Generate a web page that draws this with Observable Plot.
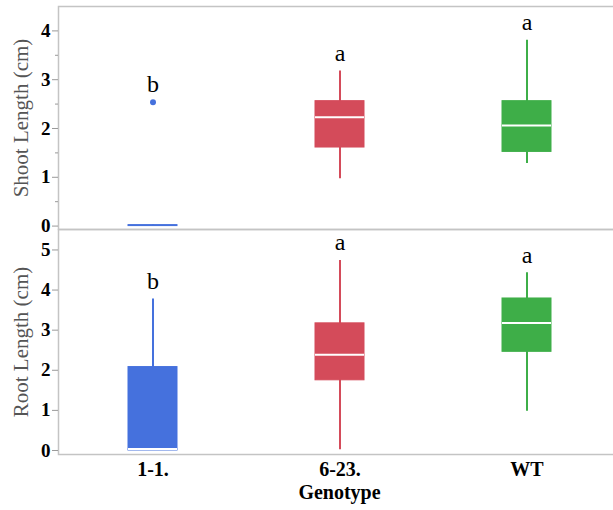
<!DOCTYPE html>
<html><head><meta charset="utf-8">
<script src="https://cdn.jsdelivr.net/npm/d3@7"></script>
<script src="https://cdn.jsdelivr.net/npm/@observablehq/plot@0.6"></script>
<style>
body{margin:0;background:#fff;}
#wrap{position:relative;width:613px;height:510px;overflow:hidden;}
#top{position:absolute;left:0;top:0;}
#bot{position:absolute;left:0;top:228px;}
</style>
</head><body><div id="wrap"><div id="top"></div><div id="bot"></div></div>
<script>
const genotypes = ["1-1.", "6-23.", "WT"];
const genotypeColors = ["#4571DD", "#D44B5A", "#3EAE48"];

const shootWhiskerLow = [0, 0.97, 1.28];
const shootQ1 = [0, 1.61, 1.52];
const shootMedian = [null, 2.23, 2.06];
const shootQ3 = [0.02, 2.56, 2.56];
const shootWhiskerHigh = [0.02, 3.18, 3.81];
const shootOutlierGenotype = ["1-1."];
const shootOutlierValue = [2.54];
const shootLetters = ["b", "a", "a"];
const shootTicks = [0, 1, 2, 3, 4];
const shootMinorTicks = [0.5, 1.5, 2.5, 3.5];

const rootWhiskerLow = [0, 0.02, 0.98];
const rootQ1 = [0, 1.75, 2.46];
const rootMedian = [0.04, 2.39, 3.18];
const rootQ3 = [2.08, 3.17, 3.79];
const rootWhiskerHigh = [3.78, 4.74, 4.43];
const rootOutlierGenotype = [];
const rootOutlierValue = [];
const rootLetters = ["b", "a", "a"];
const rootTicks = [0, 1, 2, 3, 4, 5];

const FONT = "Liberation Serif, Times New Roman, serif";

function panel(o) {
  const boxes = genotypes.map((g, i) => ({
    g, low: o.low[i], q1: o.q1[i], med: o.med[i], q3: o.q3[i], high: o.high[i], letter: o.letters[i]
  }));
  const outliers = o.outG.map((g, i) => ({g, v: o.outV[i]}));
  boxes.forEach(b => {
    b.top = Math.max(b.high, ...outliers.filter(p => p.g === b.g).map(p => p.v));
  });
  const marks = [
    Plot.frame({stroke: "#c4c4c4", strokeWidth: 1.5}),
    Plot.axisY(o.ticks, {tickSize: 6, tickPadding: 2, stroke: "#999", fill: "black", fontSize: 19, fontWeight: "bold", label: null}),
    ...(o.minor ? [Plot.axisY(o.minor, {tickSize: 3, tickFormat: () => "", stroke: "#999", label: null})] : []),
    Plot.ruleX(boxes, {x: "g", y1: "low", y2: "high", stroke: "g", strokeWidth: 2}),
    Plot.barY(boxes, {x: "g", y1: "q1", y2: "q3", fill: "g", stroke: "g", strokeWidth: 1, insetLeft: 69, insetRight: 69}),
    Plot.tickY(boxes.filter(b => b.med != null), {x: "g", y: "med", stroke: "white", strokeWidth: 2, insetLeft: 69, insetRight: 69}),
    Plot.dot(outliers, {x: "g", y: "v", fill: "g", r: 3, stroke: "none"}),
    Plot.text(boxes, {x: "g", y: "top", text: "letter", dy: -18, fontSize: 24, fontWeight: "normal", fill: "black", lineAnchor: "middle", fontFamily: FONT}),
    Plot.text([o.label], {frameAnchor: "left", dx: -37, rotate: -90, fontSize: 21, fill: "#555", fontWeight: "normal", textAnchor: "middle", lineAnchor: "middle", fontFamily: FONT})
  ];
  if (o.xAxis) {
    marks.push(Plot.axisX({tickSize: 0, tickPadding: 7, fontSize: 20, fontWeight: "bold", fill: "black", label: null}));
    marks.push(Plot.text(["Genotype"], {frameAnchor: "bottom", dy: 38, fontSize: 20, fontWeight: "bold", fill: "black", lineAnchor: "middle", fontFamily: FONT}));
  }
  return Plot.plot({
    width: 613,
    height: o.height,
    marginLeft: 58,
    marginRight: -7,
    marginTop: o.marginTop,
    marginBottom: o.marginBottom,
    style: {fontFamily: FONT, background: "transparent", overflow: "visible"},
    x: {domain: genotypes, padding: 0, axis: o.xAxis ? undefined : null, label: null},
    y: {domain: o.domain, label: null},
    color: {domain: genotypes, range: genotypeColors},
    marks
  });
}

document.getElementById("top").appendChild(panel({
  low: shootWhiskerLow, q1: shootQ1, med: shootMedian, q3: shootQ3, high: shootWhiskerHigh,
  outG: shootOutlierGenotype, outV: shootOutlierValue, letters: shootLetters,
  domain: [-0.07, 4.5], ticks: shootTicks, minor: shootMinorTicks,
  label: "Shoot Length (cm)", height: 230, marginTop: 6, marginBottom: 1, xAxis: false
}));

document.getElementById("bot").appendChild(panel({
  low: rootWhiskerLow, q1: rootQ1, med: rootMedian, q3: rootQ3, high: rootWhiskerHigh,
  outG: rootOutlierGenotype, outV: rootOutlierValue, letters: rootLetters,
  domain: [-0.1, 5.51], ticks: rootTicks, minor: null,
  label: "Root Length (cm)", height: 282, marginTop: 1, marginBottom: 56, xAxis: true
}));
</script>
</body></html>
